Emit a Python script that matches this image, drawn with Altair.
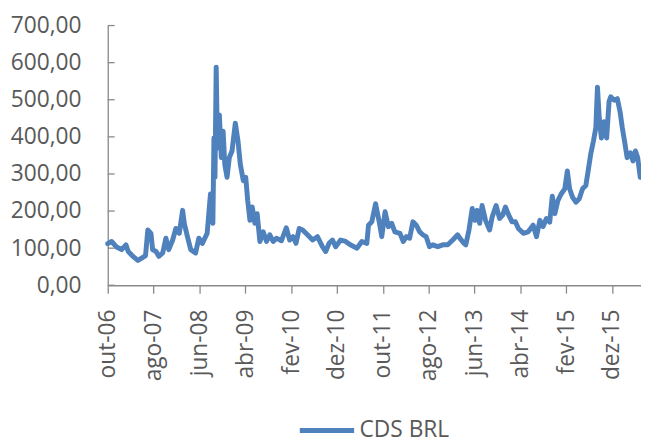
import altair as alt
import pandas as pd

# ---- data ----
dates = (
    ["2006-10-01", "2006-10-27", "2006-11-29"]
    + ["2007-01-01", "2007-01-30", "2007-02-14", "2007-03-17", "2007-04-19", "2007-05-17",
       "2007-06-09", "2007-06-24", "2007-07-15", "2007-07-26", "2007-08-18", "2007-09-05",
       "2007-10-01", "2007-10-22", "2007-11-10", "2007-12-06", "2007-12-27"]
    + ["2008-01-19", "2008-02-10", "2008-02-21", "2008-03-13", "2008-04-04", "2008-05-06",
       "2008-05-28", "2008-06-20", "2008-07-22", "2008-08-13", "2008-08-29", "2008-09-05",
       "2008-09-12", "2008-09-20", "2008-09-28", "2008-10-11", "2008-10-24", "2008-11-05",
       "2008-11-16", "2008-12-01", "2008-12-16"]
    + ["2009-01-03", "2009-01-25", "2009-02-12", "2009-02-27", "2009-03-19", "2009-04-04",
       "2009-04-17", "2009-05-02", "2009-05-17", "2009-06-04", "2009-06-19", "2009-07-07",
       "2009-07-29", "2009-08-20", "2009-09-11", "2009-10-03", "2009-10-25", "2009-11-27",
       "2009-12-29"]
    + ["2010-01-21", "2010-02-12", "2010-03-04", "2010-03-25", "2010-04-17", "2010-05-19",
       "2010-06-22", "2010-07-24", "2010-08-26", "2010-09-17", "2010-10-09", "2010-11-01",
       "2010-11-22", "2010-12-25"]
    + ["2011-01-27", "2011-02-27", "2011-04-13", "2011-05-15", "2011-06-17", "2011-06-28",
       "2011-07-20", "2011-08-14", "2011-09-09", "2011-09-24", "2011-10-16", "2011-11-07",
       "2011-11-29", "2011-12-20"]
    + ["2012-01-23", "2012-02-14", "2012-03-06", "2012-03-27", "2012-04-18", "2012-05-10",
       "2012-06-02", "2012-06-23", "2012-07-15", "2012-08-06", "2012-08-28", "2012-09-30",
       "2012-11-02", "2012-12-05"]
    + ["2013-01-07", "2013-02-09", "2013-02-27", "2013-03-23", "2013-04-04", "2013-04-25",
       "2013-05-17", "2013-06-04", "2013-06-19", "2013-07-05", "2013-07-21", "2013-08-13",
       "2013-09-09", "2013-09-26", "2013-10-22", "2013-11-14", "2013-12-05", "2013-12-23"]
    + ["2014-01-14", "2014-02-05", "2014-02-27", "2014-03-19", "2014-04-21", "2014-05-23",
       "2014-06-25", "2014-07-17", "2014-08-09", "2014-08-30", "2014-09-21", "2014-10-13",
       "2014-10-30", "2014-11-16", "2014-12-07", "2014-12-28"]
    + ["2015-01-21", "2015-02-07", "2015-02-22", "2015-03-14", "2015-04-05", "2015-04-27",
       "2015-05-19", "2015-06-10", "2015-06-25", "2015-07-12", "2015-07-30", "2015-08-15",
       "2015-08-26", "2015-09-07", "2015-09-21", "2015-10-09", "2015-10-26", "2015-11-11",
       "2015-11-22", "2015-12-14"]
    + ["2016-01-05", "2016-01-23", "2016-02-07", "2016-02-22", "2016-03-10", "2016-04-01",
       "2016-04-18", "2016-05-04", "2016-05-19", "2016-06-05"]
)

cds_brl = (
    [112, 118, 103]
    + [96, 109, 91, 78, 67, 74, 80, 149, 140, 96, 91, 78, 87, 127, 96, 122, 153]
    + [140, 202, 167, 131, 96, 87, 127, 113, 140, 246, 167, 397, 291, 588, 370, 459, 344,
       415, 326, 291, 344]
    + [362, 437, 388, 326, 282, 291, 229, 175, 211, 167, 193, 118, 144, 118, 136, 118, 127,
       120, 155]
    + [122, 131, 113, 153, 149, 136, 122, 131, 104, 91, 113, 122, 104, 122]
    + [118, 109, 100, 118, 113, 162, 171, 220, 167, 131, 198, 158, 167, 144]
    + [140, 118, 131, 127, 171, 162, 144, 136, 131, 104, 109, 104, 109, 109]
    + [122, 136, 125, 113, 109, 149, 207, 175, 202, 167, 215, 175, 149, 184, 215, 180, 189,
       211]
    + [189, 171, 171, 153, 140, 144, 162, 131, 175, 158, 180, 170, 240, 193, 229, 246]
    + [260, 308, 260, 237, 224, 233, 260, 269, 308, 353, 388, 424, 534, 450, 397, 441, 397,
       495, 508, 499]
    + [503, 468, 424, 388, 344, 357, 335, 362, 344, 291]
)

series_name = "CDS BRL"

# x tick marks: every 10 months starting Oct 2006 (year, month)
tick_dates = [(2006, 10), (2007, 8), (2008, 6), (2009, 4), (2010, 2), (2010, 12),
              (2011, 10), (2012, 8), (2013, 6), (2014, 4), (2015, 2), (2015, 12)]
tick_labels = ["out-06", "ago-07", "jun-08", "abr-09", "fev-10", "dez-10",
               "out-11", "ago-12", "jun-13", "abr-14", "fev-15", "dez-15"]
y_ticks = [0, 100, 200, 300, 400, 500, 600, 700]

# ---- build chart ----
df = pd.DataFrame({"date": dates, "value": cds_brl, "series": series_name})
ticks_df = pd.DataFrame({"v": y_ticks})

FONT = "Open Sans"
FS = 23
TXT = "#595959"
AXC = "#898989"
LINE = "#4F81BD"

labels_js = "[" + ",".join("'%s'" % t for t in tick_labels) + "]"
x_label_expr = (
    labels_js
    + "[round(((utcyear(datum.value) - 2006) * 12 + utcmonth(datum.value) - 9) / 10)]"
)

x_scale = alt.Scale(
    type="utc",
    domain=[alt.DateTime(year=2006, month=10, date=1, utc=True),
            alt.DateTime(year=2016, month=6, date=10, utc=True)],
    nice=False,
)
y_scale = alt.Scale(domain=[0, 700], nice=False)

y_axis = alt.Axis(
    values=y_ticks,
    labelExpr="replace(format(datum.value, '.2f'), '.', ',')",
    ticks=False,
    tickSize=0,
    labelPadding=27,
    grid=False,
)

line = alt.Chart(df).mark_line(strokeWidth=5, strokeJoin="round", strokeCap="round").encode(
    x=alt.X(
        "date:T",
        scale=x_scale,
        title=None,
        axis=alt.Axis(
            values=[alt.DateTime(year=y, month=m, date=1, utc=True) for y, m in tick_dates],
            labelExpr=x_label_expr,
            labelAngle=-90,
            tickSize=8,
            labelPadding=16,
            grid=False,
        ),
    ),
    y=alt.Y("value:Q", scale=y_scale, title=None, axis=y_axis),
    color=alt.Color(
        "series:N",
        scale=alt.Scale(range=[LINE]),
        legend=alt.Legend(
            orient="none",
            legendX=192,
            legendY=380,
            title=None,
            symbolType="stroke",
            symbolStrokeWidth=5,
            symbolSize=3025,
            labelFont=FONT,
            labelFontSize=FS,
            labelColor=TXT,
            labelOffset=3,
            padding=0,
        ),
    ),
)

yticks = alt.Chart(ticks_df).mark_rule(color=AXC, strokeWidth=1.3).encode(
    y=alt.Y("v:Q", scale=y_scale, title=None, axis=y_axis),
    x=alt.value(0),
    x2=alt.value(7),
)

chart = (
    alt.layer(line, yticks)
    .properties(
        width=540,
        height=263,
        autosize=alt.AutoSizeParams(type="none"),
        padding={"left": 101, "top": 15, "right": 0, "bottom": 161},
        background="white",
    )
    .configure_view(stroke=None)
    .configure_axis(
        labelFont=FONT,
        labelFontSize=FS,
        labelColor=TXT,
        domainColor=AXC,
        domainWidth=1.3,
        tickColor=AXC,
        tickWidth=1.3,
    )
)

chart.save("out.html", embed_options={"renderer": "svg", "actions": False})
